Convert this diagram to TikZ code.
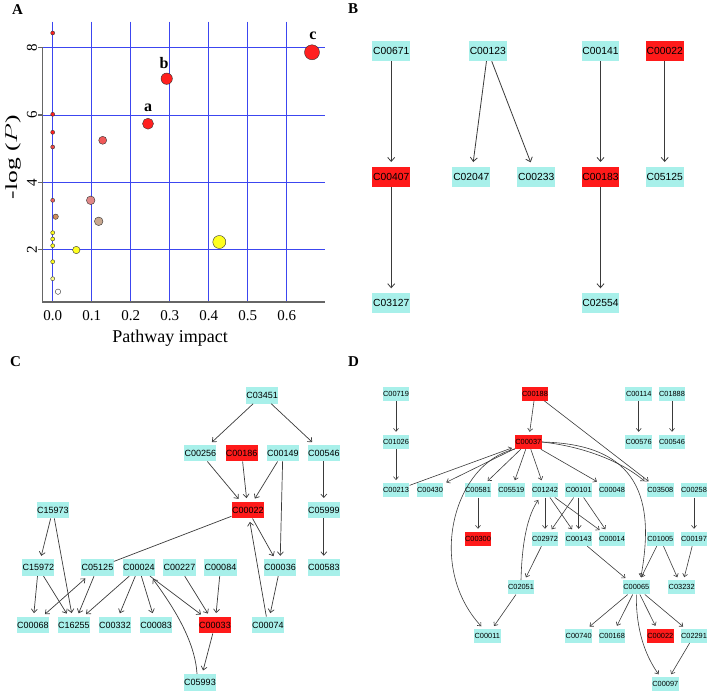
\documentclass[tikz,border=0pt]{standalone}
\usepackage{fontspec}
\setmainfont{Liberation Serif}
\newfontfamily\lab{Liberation Sans}
\usetikzlibrary{arrows.meta}
\definecolor{cy}{HTML}{A8F0EA}
\definecolor{rdf}{HTML}{FF1A1A}
\definecolor{gridblue}{HTML}{3C46F0}
\definecolor{edgec}{HTML}{3A3A3A}
\definecolor{cR}{HTML}{FF2020}
\definecolor{cY}{HTML}{FFFF20}
\begin{document}
\begin{tikzpicture}[x=1pt,y=-1pt,
 every node/.style={inner sep=0pt},
 nb/.style={fill=cy, minimum width=37.7pt, minimum height=20pt, font=\lab\fontsize{10.3}{12}\selectfont},
 rb/.style={nb, fill=rdf},
 nc/.style={fill=cy, minimum width=32.3pt, minimum height=16.5pt, font=\lab\fontsize{9}{11}\selectfont},
 rc/.style={nc, fill=rdf},
 nd/.style={fill=cy, minimum width=26.7pt, minimum height=14pt, font=\lab\fontsize{7.4}{9}\selectfont},
 rdd/.style={nd, fill=rdf},
 eb/.style={draw=edgec, line width=0.8pt, -{Straight Barb[length=4pt,width=7pt]}, shorten >=4.5pt},
 ec/.style={draw=edgec, line width=0.7pt, -{Straight Barb[length=3.5pt,width=6pt]}, shorten >=3.5pt},
 ed/.style={draw=edgec, line width=0.6pt, -{Straight Barb[length=3pt,width=5pt]}, shorten >=3pt},
 panel/.style={font=\bfseries\fontsize{15}{18}\selectfont},
 gridl/.style={draw=gridblue, line width=0.9pt},
 pt/.style={draw=black!80, line width=0.4pt},
 ticklab/.style={font=\fontsize{15}{18}\selectfont},
 ptlab/.style={font=\bfseries\fontsize{16}{18}\selectfont},
]
\useasboundingbox (0,0) rectangle (709,693);
% ---------------- Panel A ----------------
\node[panel] (lA) at (17.5,10) {A};
\foreach \i in {0,...,6} \draw[gridl] ({52.7+39*\i},21.7) -- ({52.7+39*\i},302);
\foreach \yy in {47.7,115,182.3,249.3} \draw[gridl] (42.7,\yy) -- (325,\yy);
\draw[black!60, line width=1.2pt] (42.7,47.7) -- (42.7,302) -- (325,302);
\foreach \yy in {47.7,115,182.3,249.3} \draw[black!60, line width=1.2pt] (38.3,\yy) -- (42.7,\yy);
\foreach \v/\yy in {8/47.7,6/115,4/182.3,2/249.3} \node[ticklab, rotate=90] (ty\v) at (32,\yy) {\v};
\foreach \i in {0,...,6} \node[ticklab] (tx\i) at ({52.7+39*\i},316) {0.\i};
\node[font=\fontsize{18}{20}\selectfont] (xl) at (170,338) {Pathway impact};
\node[font=\fontsize{17}{20}\selectfont, rotate=90, xscale=1.5] (yl) at (13,157) {-log ($P$)};
\foreach \x/\y/\r/\c in {52.7/33/2/cR, 312/52.3/7.5/cR, 166.7/78.7/5.7/cR, 52.7/114.3/2/cR, 148/123.7/5.5/cR, 52.7/132.3/2/cR, 102.7/140.3/4/F05858, 52.7/147/2/F04848, 52.7/200.3/2/E86060, 90.7/200.3/4.3/E08888, 55.7/216.7/2.7/D09060, 98.7/221.3/4.3/C8A890, 52.7/232.7/2/cY, 52.7/239/2/cY, 52.7/245.7/2/cY, 76.3/250/3.7/cY, 219.3/242/6.5/cY, 52.7/261.7/2/cY, 52.7/278.7/2/FFFF90, 58/291.7/2.7/FFFFFF}{
  \ifnum\pdfstrcmp{\c}{cR}=0 \def\cc{cR}\else\ifnum\pdfstrcmp{\c}{cY}=0 \def\cc{cY}\else\definecolor{tmpc}{HTML}{\c}\def\cc{tmpc}\fi\fi
  \draw[pt, fill=\cc] (\x,\y) circle[radius=\r pt];
}
\node[ptlab] (la) at (148,108.3) {a};
\node[ptlab] (lb) at (164,62.7) {b};
\node[ptlab] (lc) at (313,35.7) {c};
% ---------------- Panel B ----------------
\node[panel] (lB) at (353,9) {B};
\node[nb] (b1) at (391.2,51) {C00671};
\node[nb] (b2) at (487.8,51) {C00123};
\node[nb] (b3) at (600.5,51) {C00141};
\node[rb] (b4) at (664.7,51) {C00022};
\node[rb] (b5) at (391.2,176.7) {C00407};
\node[nb] (b6) at (471.3,176.7) {C02047};
\node[nb] (b7) at (536.2,176.7) {C00233};
\node[rb] (b8) at (600.5,176.7) {C00183};
\node[nb] (b9) at (664.7,176.7) {C05125};
\node[nb] (b10) at (391.2,303) {C03127};
\node[nb] (b11) at (600.5,303) {C02554};
\foreach \a/\b in {b1/b5,b5/b10,b2/b6,b2/b7,b3/b8,b8/b11,b4/b9} \draw[eb] (\a) -- (\b);
% ---------------- Panel C ----------------
\node[panel] (lC) at (15.5,361.7) {C};
\node[nc] (c1) at (262.2,395.3) {C03451};
\node[nc] (c2) at (200.3,453) {C00256};
\node[rc] (c3) at (241.7,453) {C00186};
\node[nc] (c4) at (282.8,453) {C00149};
\node[nc] (c5) at (323.8,453) {C00546};
\node[rc] (c6) at (247.8,510) {C00022};
\node[nc] (c7) at (323.8,510) {C05999};
\node[nc] (c8) at (52.8,510) {C15973};
\node[nc] (c9) at (38.3,567.7) {C15972};
\node[nc] (c10) at (97.5,567.7) {C05125};
\node[nc] (c11) at (138.8,567.7) {C00024};
\node[nc] (c12) at (179.5,567.7) {C00227};
\node[nc] (c13) at (220.5,567.7) {C00084};
\node[nc] (c14) at (280,567.7) {C00036};
\node[nc] (c15) at (323.8,567.7) {C00583};
\node[nc] (c16) at (32.8,625) {C00068};
\node[nc] (c17) at (73.8,625) {C16255};
\node[nc] (c18) at (115,625) {C00332};
\node[nc] (c19) at (156.2,625) {C00083};
\node[rc] (c20) at (215,625) {C00033};
\node[nc] (c21) at (267.8,625) {C00074};
\node[nc] (c22) at (200,682.3) {C05993};
\foreach \a/\b in {c1/c2,c1/c5,c2/c6,c3/c6,c4/c6,c4/c14,c5/c7,c7/c15,c6/c14,c21/c6,c14/c21,c8/c9,c8/c17,c9/c16,c9/c17,c10/c17,c11/c17,c11/c18,c11/c19,c11/c20,c12/c20,c13/c20,c20/c22} \draw[ec] (\a) -- (\b);
\draw[ec, shorten <=3.5pt, {Straight Barb[length=3.5pt,width=6pt]}-{Straight Barb[length=3.5pt,width=6pt]}] (c10) -- (c16);
\draw[draw=edgec, line width=0.7pt] (c6) -- (c10);
\draw[ec] ([xshift=-3pt]c22.north) .. controls (195,640) and (172,605) .. ([xshift=12pt]c11.south);
% ---------------- Panel D ----------------
\node[panel] (lD) at (353.5,361.7) {D};
\node[nd] (d1) at (396,393.7) {C00719};
\node[rdd] (d2) at (535,393.7) {C00188};
\node[nd] (d3) at (638.7,393.7) {C00114};
\node[nd] (d4) at (672,393.7) {C01888};
\node[nd] (d5) at (396,442) {C01026};
\node[rdd] (d6) at (528.3,442) {C00037};
\node[nd] (d7) at (638.7,442) {C00576};
\node[nd] (d8) at (672,442) {C00546};
\node[nd] (d9) at (396,490.3) {C00213};
\node[nd] (d10) at (430,490.3) {C00430};
\node[nd] (d11) at (478,490.3) {C00581};
\node[nd] (d12) at (511.3,490.3) {C05519};
\node[nd] (d13) at (545,490.3) {C01242};
\node[nd] (d14) at (578.7,490.3) {C00101};
\node[nd] (d15) at (612,490.3) {C00048};
\node[nd] (d16) at (660.3,490.3) {C03508};
\node[nd] (d17) at (694,490.3) {C00258};
\node[rdd] (d18) at (478,539) {C00300};
\node[nd] (d19) at (545,539) {C02972};
\node[nd] (d20) at (578.7,539) {C00143};
\node[nd] (d21) at (612,539) {C00014};
\node[nd] (d22) at (660.3,539) {C01005};
\node[nd] (d23) at (694,539) {C00197};
\node[nd] (d24) at (521,587.3) {C02051};
\node[nd] (d25) at (636.3,587.3) {C00065};
\node[nd] (d26) at (681.7,587.3) {C03232};
\node[nd] (d27) at (487.3,635.7) {C00011};
\node[nd] (d28) at (578.7,635.7) {C00740};
\node[nd] (d29) at (612,635.7) {C00168};
\node[rdd] (d30) at (660.3,635.7) {C00022};
\node[nd] (d31) at (694,635.7) {C02291};
\node[nd] (d32) at (665.3,684) {C00097};
\foreach \a/\b in {d1/d5,d5/d9,d9/d6,d6/d10,d6/d11,d6/d12,d6/d13,d6/d15,d2/d6,d2/d16,d3/d7,d4/d8,d11/d18,d13/d19,d13/d20,d13/d21,d14/d19,d14/d20,d14/d21,d19/d24,d24/d27,d20/d25,d22/d25,d22/d26,d17/d23,d23/d26,d25/d28,d25/d29,d25/d30,d25/d31,d31/d32} \draw[ed] (\a) -- (\b);
\draw[ed] (d6.east) .. controls (580,446) and (620,460) .. (d16.north west);
\draw[ed] (d6.east) .. controls (640,444) and (655,500) .. ([xshift=4pt]d25.north);
\draw[ed] (d6.south west) .. controls (455,462) and (425,565) .. ([xshift=-4pt]d27.north);
\draw[ed] (d24.north) .. controls (522,540) and (528,515) .. ([xshift=-5pt]d13.south);
\draw[ed] (d25.south) .. controls (636,630) and (645,655) .. ([xshift=-5pt]d32.north);
\end{tikzpicture}
\end{document}
